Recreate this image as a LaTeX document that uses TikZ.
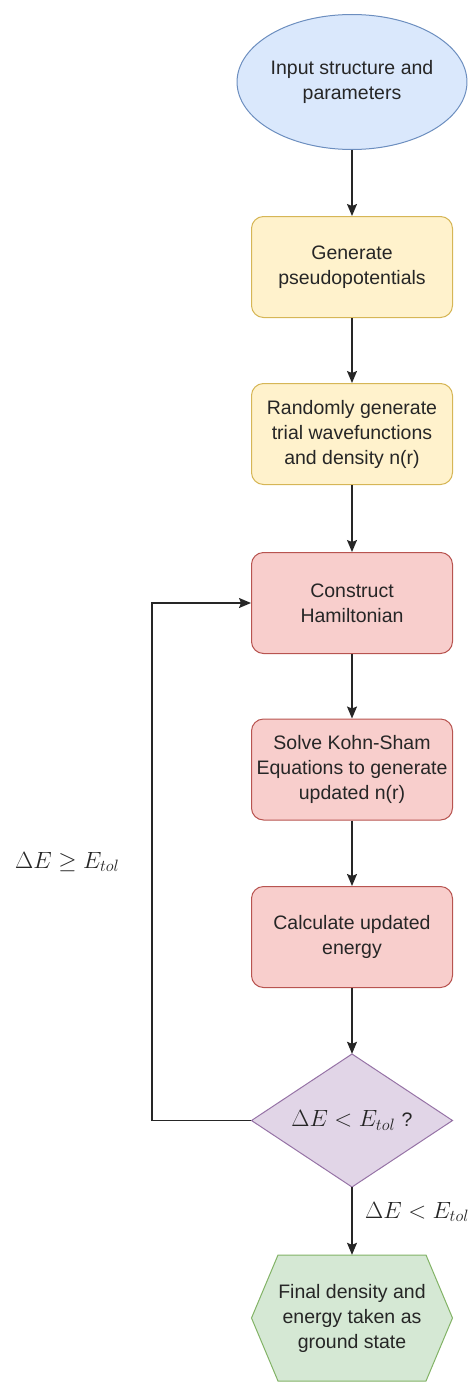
\RequirePackage{fix-cm}
\documentclass[tikz,border=0pt]{standalone}
\usepackage{amsmath,amssymb}
\usepackage{fontspec}
\setmainfont{Liberation Sans}
\usetikzlibrary{arrows.meta,shapes.geometric}
\definecolor{InputFill}{HTML}{DAE8FC}
\definecolor{InputLine}{HTML}{6C8EBF}
\definecolor{PrepFill}{HTML}{FFF2CC}
\definecolor{PrepLine}{HTML}{D6B656}
\definecolor{LoopFill}{HTML}{F8CECC}
\definecolor{LoopLine}{HTML}{B85450}
\definecolor{TestFill}{HTML}{E1D5E7}
\definecolor{TestLine}{HTML}{9673A6}
\definecolor{DoneFill}{HTML}{D5E8D4}
\definecolor{DoneLine}{HTML}{82B366}

\begin{document}
\begin{tikzpicture}[x=1pt,y=-1pt,
    every node/.style={font=\fontsize{19.5}{25}\selectfont,align=center,text=black!85},
    stepbox/.style={rounded corners=12pt,minimum width=201pt,minimum height=101pt,line width=1pt,inner sep=2pt},
    flow/.style={line width=1.4pt,black!85,-{Stealth[length=12pt,width=10pt,inset=2pt]}},
    cond/.style={font=\fontsize{23.5}{25}\selectfont,inner sep=2pt}]
      \useasboundingbox (0,0) rectangle (474,1383);
      \node[ellipse,draw=InputLine,fill=InputFill,line width=1pt,minimum width=201pt,minimum height=135pt,inner sep=0pt] (input) at (352,82) {Input structure and\\parameters};
      \node[stepbox,draw=PrepLine,fill=PrepFill] (pseudo) at (352,267) {Generate\\pseudopotentials};
      \node[stepbox,draw=PrepLine,fill=PrepFill] (trial) at (352,434) {Randomly generate\\trial wavefunctions\\and density n(r)};
      \node[stepbox,draw=LoopLine,fill=LoopFill] (hamil) at (352,603) {Construct\\Hamiltonian};
      \node[stepbox,draw=LoopLine,fill=LoopFill] (kohn) at (352,769.5) {Solve Kohn-Sham\\Equations to generate\\updated n(r)};
      \node[stepbox,draw=LoopLine,fill=LoopFill] (energy) at (352,937) {Calculate updated\\energy};
      \filldraw[draw=TestLine,fill=TestFill,line width=1pt] (352,1054) -- (452.5,1120.5) -- (352,1187) -- (251.5,1120.5) -- cycle;
      \node[cond,minimum width=201pt,minimum height=133pt,inner sep=0pt] (test) at (352,1120.5) {$\Delta E < E_{tol}$ {\fontsize{19.5}{25}\selectfont ?}};
      \filldraw[draw=DoneLine,fill=DoneFill,line width=1pt] (278,1255) -- (426,1255) -- (452.5,1318) -- (426,1381) -- (278,1381) -- (251.5,1318) -- cycle;
      \node[minimum width=201pt,minimum height=126pt,inner sep=0pt] (final) at (352,1318) {Final density and\\energy taken as\\ground state};
      \coordinate (back) at (152,1120.5);
      \coordinate (up) at (152,603);
      \draw[flow] (input) -- (pseudo);
      \draw[flow] (pseudo) -- (trial);
      \draw[flow] (trial) -- (hamil);
      \draw[flow] (hamil) -- (kohn);
      \draw[flow] (kohn) -- (energy);
      \draw[flow] (energy) -- (test);
      \draw[flow] (test) -- (final);
      \draw[flow] (test.west) -- (back) -- (up) -- (hamil.west);
      \node[cond,anchor=west] (fail) at (13,862) {$\Delta E \geq E_{tol}$};
      \node[cond,anchor=west] (pass) at (363,1212) {$\Delta E < E_{tol}$};
    \end{tikzpicture}
\end{document}
